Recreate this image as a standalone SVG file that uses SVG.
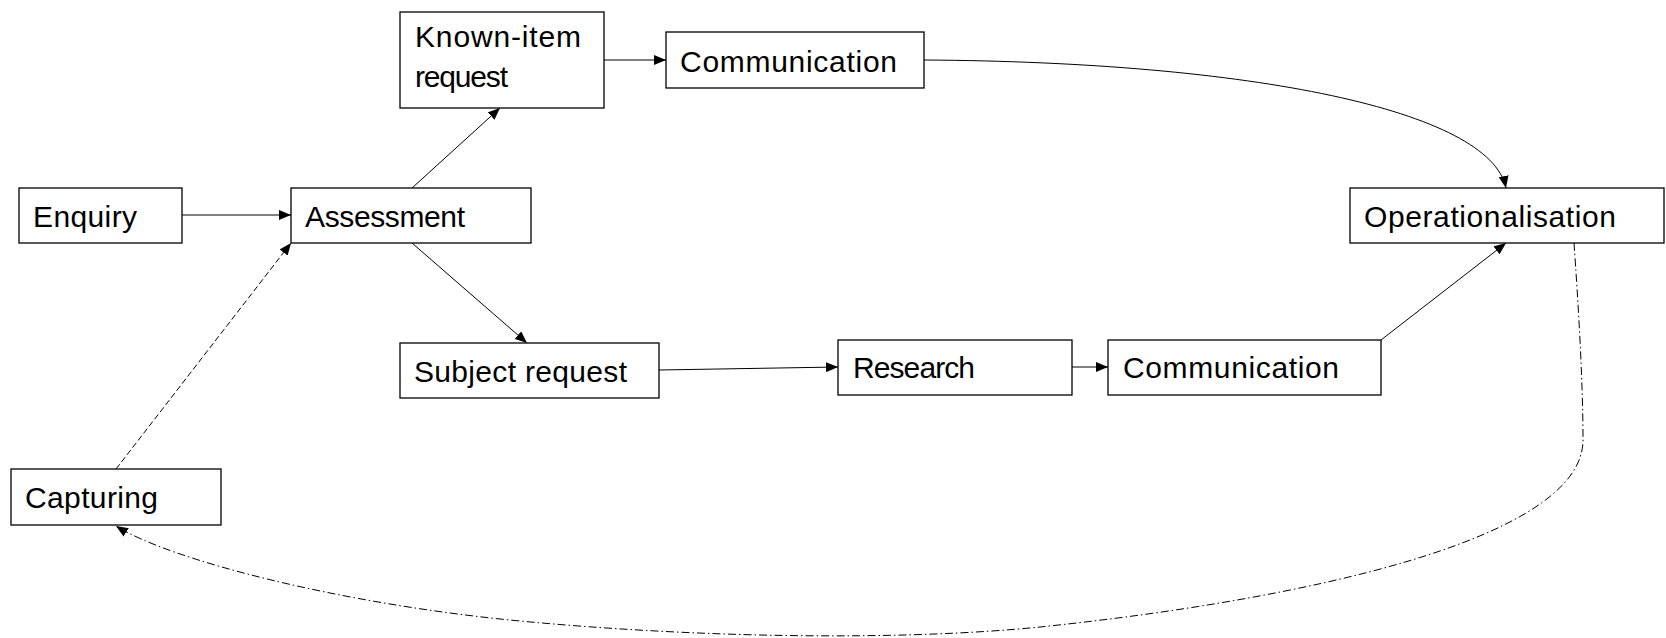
<svg xmlns="http://www.w3.org/2000/svg" width="1666" height="638" viewBox="0 0 1666 638">
<style>
.box{fill:#fff;stroke:#000;stroke-width:1.3}
.lbl{font-family:"Liberation Sans",Arial,sans-serif;font-size:30px;fill:#000}
.c{fill:none;stroke:#000;stroke-width:1}
.dash{stroke-dasharray:6 3}
.dashdot{stroke-dasharray:8 3 1.5 3}
</style>
<defs>
<marker id="arr" markerUnits="userSpaceOnUse" markerWidth="12" markerHeight="10" refX="12" refY="5" orient="auto">
<path d="M0,0 L12,5 L0,10 z" fill="#000"/>
</marker>
</defs>
<rect width="1666" height="638" fill="#fff"/>
<g id="connectors">
<path class="c" d="M182,215 L291,215" marker-end="url(#arr)"/>
<path class="c" d="M412,188 L500,108" marker-end="url(#arr)"/>
<path class="c" d="M604,60 L666,60" marker-end="url(#arr)"/>
<path class="c" d="M924,60 C1250,62 1490,110 1506,188" marker-end="url(#arr)"/>
<path class="c" d="M412,243 L527,343" marker-end="url(#arr)"/>
<path class="c" d="M659,370 L838,367" marker-end="url(#arr)"/>
<path class="c" d="M1072,367 L1108,367" marker-end="url(#arr)"/>
<path class="c" d="M1381,340 L1506,243" marker-end="url(#arr)"/>
<path class="c dash" d="M116,469 L291,243" marker-end="url(#arr)"/>
<path class="c dashdot" d="M1574,243 C1578,300 1583,380 1583,440 C1583,540 1300,600 1040,627 C900,641 700,638 520,621 C340,604 170,560 116,526" marker-end="url(#arr)"/>
</g>
<g id="enquiry"><rect class="box" x="19" y="188" width="163" height="55"/><text class="lbl" x="33" y="227" textLength="104" lengthAdjust="spacing">Enquiry</text></g>
<g id="assessment"><rect class="box" x="291" y="188" width="240" height="55"/><text class="lbl" x="305" y="227" textLength="160" lengthAdjust="spacing">Assessment</text></g>
<g id="known-item"><rect class="box" x="400" y="12" width="204" height="96"/><text class="lbl" x="415" y="47" textLength="166" lengthAdjust="spacing">Known-item</text><text class="lbl" x="415" y="87" textLength="93" lengthAdjust="spacing">request</text></g>
<g id="communication1"><rect class="box" x="666" y="32" width="258" height="56"/><text class="lbl" x="680" y="72" textLength="217" lengthAdjust="spacing">Communication</text></g>
<g id="operationalisation"><rect class="box" x="1350" y="188" width="314" height="55"/><text class="lbl" x="1364" y="227" textLength="252" lengthAdjust="spacing">Operationalisation</text></g>
<g id="subject-request"><rect class="box" x="400" y="343" width="259" height="55"/><text class="lbl" x="414" y="382" textLength="213" lengthAdjust="spacing">Subject request</text></g>
<g id="research"><rect class="box" x="838" y="340" width="234" height="55"/><text class="lbl" x="853" y="378" textLength="122" lengthAdjust="spacing">Research</text></g>
<g id="communication2"><rect class="box" x="1108" y="340" width="273" height="55"/><text class="lbl" x="1123" y="378" textLength="216" lengthAdjust="spacing">Communication</text></g>
<g id="capturing"><rect class="box" x="11" y="469" width="210" height="56"/><text class="lbl" x="25" y="508" textLength="133" lengthAdjust="spacing">Capturing</text></g>
</svg>
